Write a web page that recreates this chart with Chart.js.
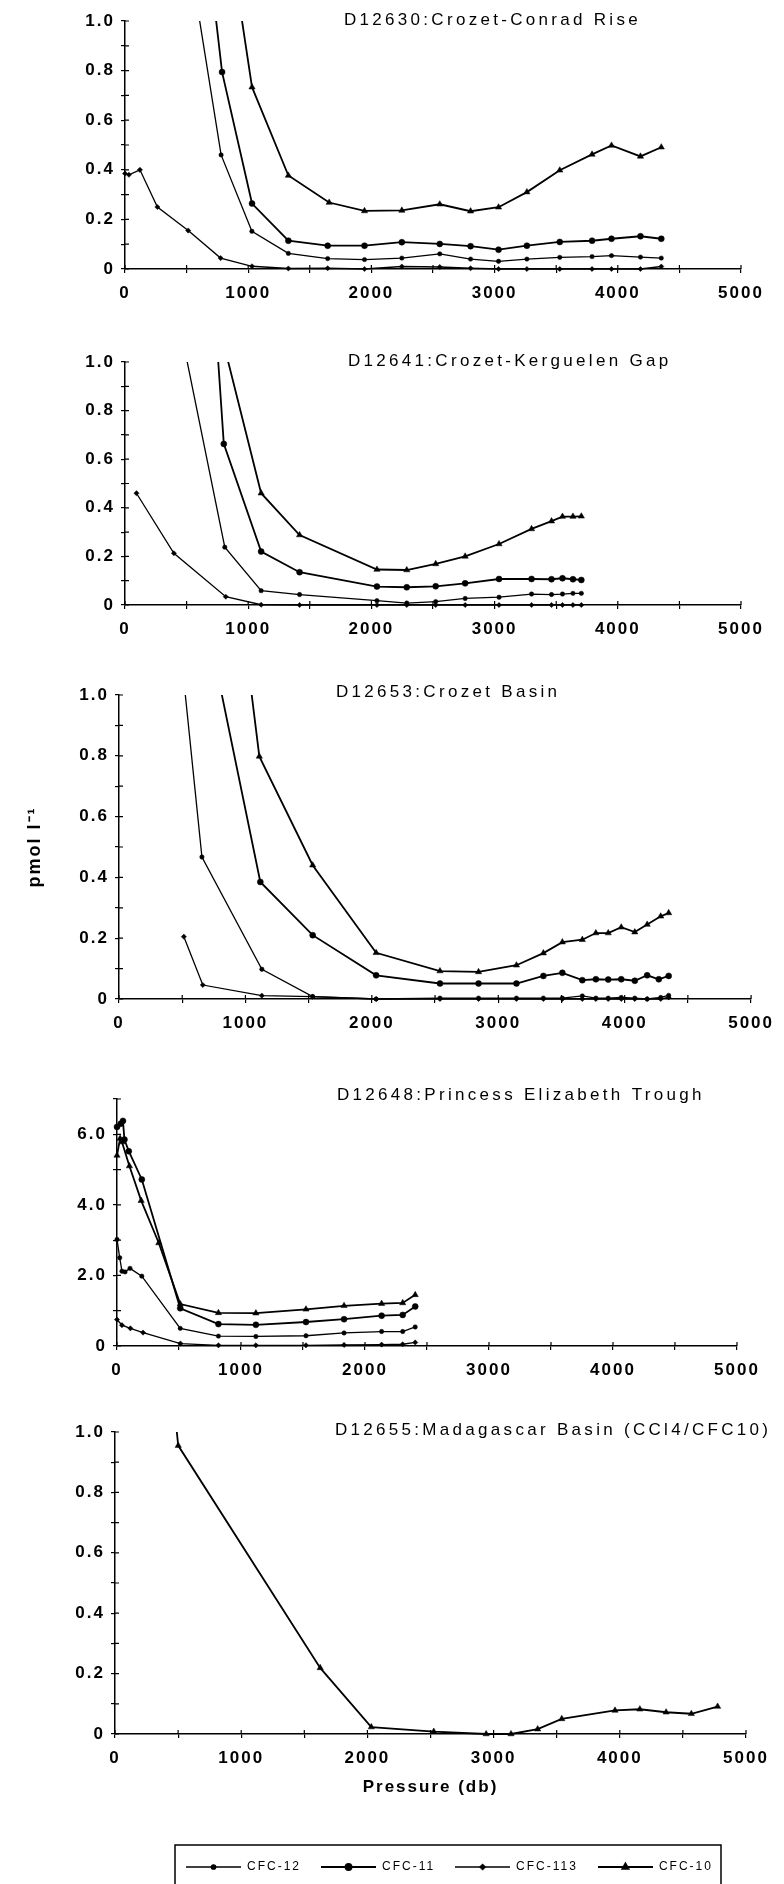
<!DOCTYPE html>
<html><head><meta charset="utf-8">
<script src="https://cdn.jsdelivr.net/npm/chart.js@4.4.1/dist/chart.umd.min.js"></script>
<style>
html,body{margin:0;padding:0;background:#fff;}
#page{position:relative;width:784px;height:1884px;overflow:hidden;background:#fff;}
#page canvas{position:absolute;left:0;}
</style></head>
<body><div id="page"></div>
<script>
// ---------- data ----------
const seriesNames = ['CFC-12', 'CFC-11', 'CFC-113', 'CFC-10'];
const panelTitles = [
  'D12630:Crozet-Conrad Rise',
  'D12641:Crozet-Kerguelen Gap',
  'D12653:Crozet Basin',
  'D12648:Princess Elizabeth Trough',
  'D12655:Madagascar Basin (CCl4/CFC10)'
];
const xTickLabels = ['0', '1000', '2000', '3000', '4000', '5000'];
const yAxisTitle = 'pmol l\u207B\u00B9';
const xAxisTitle = 'Pressure (db)';

// panel 1  [pressure, value]
const p1CFC12 = [[500,1.33],[780,0.46],[1030,0.152],[1326,0.063],[1645,0.042],[1944,0.038],[2247,0.044],[2555,0.061],[2805,0.040],[3032,0.031],[3262,0.040],[3529,0.047],[3791,0.050],[3949,0.054],[4184,0.048],[4353,0.044]];
const p1CFC11 = [[500,2.03],[788,0.794],[1031,0.264],[1326,0.114],[1645,0.094],[1944,0.094],[2247,0.108],[2555,0.101],[2805,0.092],[3032,0.078],[3262,0.094],[3529,0.109],[3791,0.114],[3949,0.122],[4184,0.132],[4353,0.122]];
const p1CFC113 = [[0,0.385],[32,0.38],[121,0.40],[263,0.25],[513,0.155],[776,0.044],[1031,0.011],[1326,0.002],[1645,0.003],[1944,0.0],[2247,0.01],[2555,0.008],[2805,0.003],[3032,0.0],[3262,0.0],[3529,0.0],[3791,0.0],[3949,0.0],[4184,0.0],[4353,0.01]];
const p1CFC10 = [[750,1.66],[1031,0.733],[1326,0.377],[1657,0.268],[1944,0.234],[2247,0.236],[2555,0.261],[2805,0.233],[3032,0.249],[3262,0.31],[3529,0.398],[3791,0.462],[3949,0.498],[4184,0.454],[4353,0.491]];

// panel 2
const p2CFC12 = [[400,1.263],[810,0.238],[1105,0.059],[1417,0.043],[2045,0.018],[2287,0.008],[2522,0.014],[2761,0.027],[3036,0.032],[3300,0.045],[3462,0.043],[3551,0.045],[3636,0.048],[3704,0.048]];
const p2CFC11 = [[700,1.427],[802,0.663],[1105,0.22],[1417,0.135],[2045,0.076],[2287,0.073],[2522,0.077],[2761,0.089],[3036,0.107],[3300,0.107],[3462,0.106],[3551,0.11],[3636,0.106],[3704,0.103]];
const p2CFC113 = [[93,0.46],[397,0.213],[818,0.034],[1105,0.001],[1417,0],[2045,0],[2287,0],[2522,0],[2761,0],[3036,0],[3300,0],[3462,0],[3551,0],[3636,0],[3704,0]];
const p2CFC10 = [[800,1.077],[1105,0.46],[1417,0.288],[2045,0.146],[2287,0.144],[2522,0.169],[2761,0.20],[3036,0.251],[3300,0.313],[3462,0.345],[3551,0.364],[3636,0.364],[3704,0.365]];

// panel 3
const p3CFC12 = [[500,1.10],[656,0.467],[1130,0.098],[1532,0.008],[2034,0],[2539,0.003],[2844,0.003],[3144,0.003],[3357,0.003],[3507,0.003],[3665,0.01],[3772,0.003],[3870,0.003],[3973,0.005],[4080,0.003],[4178,0],[4285,0.005],[4348,0.012]];
const p3CFC11 = [[800,1.028],[1118,0.385],[1532,0.21],[2034,0.078],[2539,0.051],[2844,0.051],[3144,0.051],[3357,0.076],[3507,0.086],[3665,0.062],[3772,0.065],[3870,0.064],[3973,0.065],[4080,0.06],[4178,0.078],[4270,0.065],[4348,0.076]];
const p3CFC113 = [[513,0.205],[663,0.046],[1130,0.011],[1532,0.008],[2034,0],[2539,0],[2844,0],[3144,0],[3357,0],[3507,0],[3665,0],[3772,0],[3870,0],[3973,0],[4080,0],[4178,0],[4285,0],[4348,0.005]];
const p3CFC10 = [[1000,1.168],[1110,0.798],[1532,0.44],[2034,0.152],[2539,0.092],[2844,0.089],[3144,0.111],[3357,0.151],[3507,0.187],[3665,0.195],[3772,0.217],[3870,0.217],[3973,0.236],[4080,0.22],[4178,0.245],[4285,0.272],[4348,0.283]];

// panel 4
const p4CFC12 = [[0,3.02],[22,2.5],[40,2.12],[65,2.1],[105,2.2],[200,1.98],[510,0.5],[818,0.28],[1120,0.27],[1524,0.29],[1831,0.37],[2134,0.41],[2304,0.41],[2405,0.54]];
const p4CFC11 = [[0,6.21],[30,6.3],[48,6.38],[60,5.85],[95,5.52],[200,4.72],[510,1.07],[818,0.62],[1120,0.6],[1524,0.68],[1831,0.76],[2134,0.86],[2304,0.88],[2405,1.12]];
const p4CFC113 = [[0,0.75],[40,0.59],[108,0.5],[210,0.38],[512,0.07],[818,0.02],[1120,0.02],[1524,0.02],[1831,0.03],[2134,0.04],[2304,0.05],[2405,0.1]];
const p4CFC10 = [[0,5.4],[25,5.88],[40,5.78],[100,5.1],[195,4.12],[337,2.92],[510,1.19],[818,0.94],[1120,0.93],[1524,1.04],[1831,1.14],[2134,1.2],[2304,1.22],[2405,1.45]];

// panel 5
const p5CFC10 = [[470,1.08],[501,0.955],[1626,0.219],[2031,0.023],[2526,0.008],[2941,0.0],[3138,0.0],[3349,0.016],[3540,0.05],[3962,0.078],[4159,0.082],[4367,0.072],[4567,0.067],[4775,0.091]];

// ---------- styles / layout ----------
const FONT = '"Liberation Sans", Arial, Helvetica, sans-serif';
Chart.defaults.font.family = FONT;
Chart.defaults.color = '#000';

const seriesStyle = [
  {pointStyle: 'circle', radius: 2.2, width: 1.3},
  {pointStyle: 'circle', radius: 3.0, width: 1.8},
  {pointStyle: 'rectRot', radius: 2.6, width: 1.3},
  {pointStyle: 'triangle', radius: 3.6, width: 1.8}
];
const panelBox = [
  {top: 21,   bottom: 269,  left: 125, right: 741, titleX: 344, titleY: 20},
  {top: 362,  bottom: 605,  left: 125, right: 741, titleX: 348, titleY: 361},
  {top: 695,  bottom: 999,  left: 119, right: 752, titleX: 336, titleY: 692},
  {top: 1099, bottom: 1346, left: 117, right: 737, titleX: 337, titleY: 1095},
  {top: 1432, bottom: 1734, left: 115, right: 746, titleX: 335, titleY: 1430}
];

// ---------- plugins ----------
const spacing = {
  id: 'spacing',
  beforeUpdate(c) { c.ctx.letterSpacing = '2px'; },
  beforeLayout(c) { c.ctx.letterSpacing = '2px'; },
  beforeDraw(c) { c.ctx.letterSpacing = '2px'; }
};
const crossTicks = {
  id: 'crossTicks',
  afterDraw(chart) {
    const {ctx, chartArea: a, scales} = chart;
    ctx.save();
    ctx.strokeStyle = '#000';
    ctx.lineWidth = 1.2;
    ctx.beginPath();
    scales.x.ticks.forEach(t => { const p = scales.x.getPixelForValue(t.value); ctx.moveTo(p, a.bottom); ctx.lineTo(p, a.bottom - 4); });
    scales.y.ticks.forEach(t => { const p = scales.y.getPixelForValue(t.value); ctx.moveTo(a.left, p); ctx.lineTo(a.left + 4, p); });
    ctx.stroke();
    ctx.restore();
  }
};
const panelTitle = {
  id: 'panelTitle',
  afterDraw(chart, args, o) {
    if (!o || !o.text) return;
    const ctx = chart.ctx;
    ctx.save();
    ctx.font = '17px ' + FONT;
    ctx.letterSpacing = '3.3px';
    ctx.fillStyle = '#000';
    ctx.textAlign = 'left';
    ctx.textBaseline = 'middle';
    ctx.fillText(o.text, o.x, chart.chartArea.top + o.dy);
    ctx.restore();
  }
};
const legendPlace = {
  id: 'legendPlace',
  afterLayout(chart, args, o) {
    const lg = chart.legend;
    if (!lg || !o || o.left === undefined) return;
    const w = lg.right - lg.left, h = lg.bottom - lg.top;
    lg.left = o.left; lg.right = o.left + w;
    lg.top = o.top; lg.bottom = o.top + h;
  },
  afterDraw(chart, args, o) {
    if (!o || !o.box) return;
    const ctx = chart.ctx;
    ctx.save();
    ctx.strokeStyle = '#000';
    ctx.lineWidth = 1.5;
    ctx.strokeRect(o.box.x, o.box.y, o.box.w, o.box.h);
    ctx.restore();
  }
};

// legend samples: line with the marker in the middle
function makeSample(i) {
  const c = document.createElement('canvas');
  c.width = 55; c.height = 12;
  const g = c.getContext('2d');
  const st = seriesStyle[i];
  g.strokeStyle = '#000'; g.fillStyle = '#000';
  g.lineWidth = st.width;
  g.beginPath(); g.moveTo(0, 6); g.lineTo(55, 6); g.stroke();
  Chart.helpers.drawPoint(g, {pointStyle: st.pointStyle, radius: st.radius, borderWidth: 0.5}, 27.5, 6);
  return c;
}
const sampleImgs = seriesNames.map((n, i) => makeSample(i));

// ---------- chart builder ----------
const page = document.getElementById('page');
function addCanvas(top, height) {
  const c = document.createElement('canvas');
  c.width = 784; c.height = height;
  c.style.top = top + 'px';
  c.style.width = '784px'; c.style.height = height + 'px';
  page.appendChild(c);
  return c;
}

function tickFont() { return {size: 17, weight: 'bold', family: FONT}; }

function makePanel(idx, series, yMax, yStep, yCallback, extra) {
  const B = panelBox[idx];
  const plotH = B.bottom - B.top;
  const last = idx === 4;
  const canvasTop = B.top - 20;
  const height = last ? 1884 - canvasTop : 20 + plotH + 40;
  const xH = last ? 80 : 40;
  const legendH = 42;
  const padBottom = last ? height - (20 + plotH) - xH - legendH : 0;
  const cv = addCanvas(canvasTop, height);

  const datasets = series.map(s => {
    const st = seriesStyle[s.k];
    return {
      label: seriesNames[s.k],
      data: s.data,
      borderColor: '#000',
      backgroundColor: '#000',
      borderWidth: st.width,
      pointStyle: st.pointStyle,
      pointRadius: st.radius,
      pointHoverRadius: st.radius,
      pointBorderWidth: 0.5,
      pointBackgroundColor: '#000',
      pointBorderColor: '#000',
      tension: 0,
      clip: {left: 6, right: 6, top: 0, bottom: 6}
    };
  });

  const gridCfg = {display: true, drawOnChartArea: false, drawTicks: true, tickLength: 4, color: '#000', lineWidth: 1.2};
  const borderCfg = {display: true, color: '#000', width: 1.5};

  const options = {
    responsive: false,
    devicePixelRatio: 1,
    animation: false,
    events: [],
    layout: {padding: {top: 20, left: 0, right: 784 - B.right, bottom: padBottom}},
    scales: {
      x: {
        type: 'linear', min: 0, max: 5000,
        afterFit: s => { s.height = xH; },
        grid: gridCfg, border: borderCfg,
        ticks: {
          stepSize: 500, autoSkip: false, maxRotation: 0, minRotation: 0,
          padding: 10, color: '#000', font: tickFont(),
          callback: v => (v % 1000 === 0 ? xTickLabels[v / 1000] : '')
        },
        title: last ? {display: true, text: xAxisTitle, color: '#000',
          font: {size: 17, weight: 'bold', family: FONT}, padding: {top: 0, bottom: 16}} : {display: false}
      },
      y: {
        type: 'linear', min: 0, max: yMax,
        afterFit: s => { s.width = B.left; },
        grid: gridCfg, border: borderCfg,
        ticks: {stepSize: yStep, autoSkip: false, padding: 6, color: '#000', font: tickFont(), callback: yCallback},
        title: (extra && extra.yTitle) ? {display: true, text: yAxisTitle, color: '#000',
          font: {size: 18, weight: 'bold', family: FONT}, padding: {top: 24, bottom: 0}} : {display: false}
      }
    },
    plugins: {
      legend: last ? {
        display: true, position: 'bottom', align: 'start',
        labels: {
          usePointStyle: true, pointStyleWidth: 55, padding: 20, color: '#000',
          font: {size: 12, family: FONT},
          generateLabels: () => seriesNames.map((n, i) => ({
            text: n, pointStyle: sampleImgs[i], fillStyle: '#000', strokeStyle: '#000',
            lineWidth: 0, hidden: false, fontColor: '#000', datasetIndex: 0
          }))
        }
      } : {display: false},
      tooltip: {enabled: false},
      title: {display: false},
      panelTitle: {text: panelTitles[idx], x: B.titleX, dy: B.titleY - B.top},
      legendPlace: last ? {left: 166, top: 1867 - canvasTop - 26, box: {x: 175, y: 1845 - canvasTop, w: 546, h: 80}} : {}
    }
  };

  return new Chart(cv, {
    type: 'line',
    data: {datasets},
    options,
    plugins: [spacing, crossTicks, panelTitle, legendPlace]
  });
}

const yTenths = v => {
  const t = Math.round(v * 10);
  if (t === 0) return '0';
  return t % 2 === 0 ? (t / 10).toFixed(1) : '';
};
const yUnits = v => {
  const t = Math.round(v);
  if (t === 0) return '0';
  return (t % 2 === 0 && t < 7) ? t.toFixed(1) : '';
};

makePanel(0, [{k: 0, data: p1CFC12}, {k: 1, data: p1CFC11}, {k: 2, data: p1CFC113}, {k: 3, data: p1CFC10}], 1, 0.1, yTenths);
makePanel(1, [{k: 0, data: p2CFC12}, {k: 1, data: p2CFC11}, {k: 2, data: p2CFC113}, {k: 3, data: p2CFC10}], 1, 0.1, yTenths);
makePanel(2, [{k: 0, data: p3CFC12}, {k: 1, data: p3CFC11}, {k: 2, data: p3CFC113}, {k: 3, data: p3CFC10}], 1, 0.1, yTenths, {yTitle: true});
makePanel(3, [{k: 0, data: p4CFC12}, {k: 1, data: p4CFC11}, {k: 2, data: p4CFC113}, {k: 3, data: p4CFC10}], 7, 1, yUnits);
makePanel(4, [{k: 3, data: p5CFC10}], 1, 0.1, yTenths);
</script>
</body></html>
